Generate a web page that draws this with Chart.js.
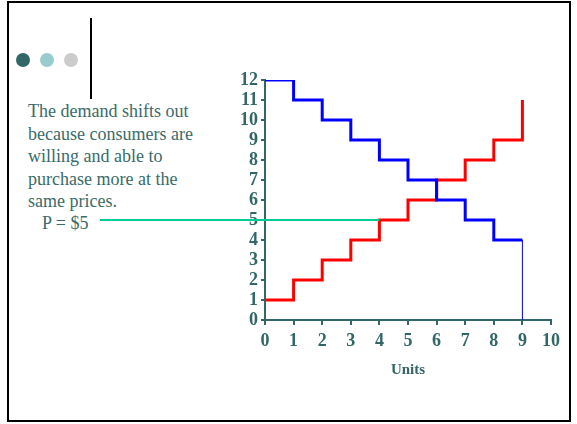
<!DOCTYPE html>
<html>
<head>
<meta charset="utf-8">
<script src="https://cdn.jsdelivr.net/npm/chart.js@4"></script>
<style>
  html, body { margin: 0; padding: 0; background: #fff; }
  body { width: 577px; height: 424px; position: relative; overflow: hidden; }
  #frame { position: absolute; left: 7px; top: 1px; width: 560px; height: 417px; border: 2px solid #000; }
  .dot { position: absolute; width: 14px; height: 14px; border-radius: 50%; top: 53px; }
  #vline { position: absolute; left: 90px; top: 18px; width: 2px; height: 81px; background: #000; }
  #para { position: absolute; left: 28px; top: 100px; font-family: "Liberation Serif", "Times New Roman", serif;
          font-size: 18px; line-height: 22.6px; color: #3a6b6b; white-space: nowrap; }
  #plabel { position: absolute; left: 42px; top: 212px; font-family: "Liberation Serif", "Times New Roman", serif;
          font-size: 18px; line-height: 22px; color: #3a6b6b; white-space: nowrap; }
  #c { position: absolute; left: 0; top: 0; }
</style>
</head>
<body>
<div id="frame"></div>
<div class="dot" style="left:16px;background:#336666"></div>
<div class="dot" style="left:40px;background:#99cccc"></div>
<div class="dot" style="left:64px;background:#cccccc"></div>
<div id="vline"></div>
<div id="para">The demand shifts out<br>because consumers are<br>willing and able to<br>purchase more at the<br>same prices.</div>
<div id="plabel">P = $5</div>
<canvas id="c" width="577" height="424"></canvas>
<script>
// ---- data ----
const units = [0, 1, 2, 3, 4, 5, 6, 7, 8, 9];
const demandPrice = [12, 11, 10, 9, 8, 7, 6, 5, 4];   // price for unit interval i..i+1
const supplyPrice = [1, 2, 3, 4, 5, 6, 7, 8, 9];      // price for unit interval i..i+1
const supplyTop = 11;
const demandBottom = 0;
const marketPrice = 5;
const xTicks = [0, 1, 2, 3, 4, 5, 6, 7, 8, 9, 10];
const yTicks = [0, 1, 2, 3, 4, 5, 6, 7, 8, 9, 10, 11, 12];

// build step points
const demandPts = demandPrice.map((p, i) => ({x: units[i], y: p}));
demandPts.push({x: units[demandPrice.length], y: demandPrice[demandPrice.length - 1]});
demandPts.push({x: units[demandPrice.length], y: demandBottom});
const supplyPts = supplyPrice.map((p, i) => ({x: units[i], y: p}));
supplyPts.push({x: units[supplyPrice.length], y: supplyPrice[supplyPrice.length - 1]});
supplyPts.push({x: units[supplyPrice.length], y: supplyTop});

const axisColor = '#336666';
const tickFont = {family: '"Liberation Serif", "Times New Roman", serif', size: 18, weight: 'bold'};

const priceLine = {
  id: 'priceLine',
  afterDatasetsDraw(chart) {
    const {ctx, scales: {x, y}} = chart;
    const lbl = document.getElementById('plabel');
    const r = lbl.getBoundingClientRect();
    const cr = chart.canvas.getBoundingClientRect();
    const idx = supplyPrice.indexOf(marketPrice);
    const x0 = r.left - cr.left + 58;
    const x1 = x.getPixelForValue(units[idx]);
    const yy = y.getPixelForValue(marketPrice);
    ctx.save();
    ctx.strokeStyle = '#00cc99';
    ctx.lineWidth = 2;
    ctx.beginPath();
    ctx.moveTo(x0, yy);
    ctx.lineTo(x1, yy);
    ctx.stroke();
    ctx.restore();
  }
};

new Chart(document.getElementById('c'), {
  type: 'scatter',
  data: {
    datasets: [
      {
        label: 'Demand',
        data: demandPts,
        showLine: true,
        stepped: 'before',
        borderColor: '#0000ff',
        borderWidth: 3,
        pointRadius: 0,
        fill: false,
        segment: {
          borderWidth: c => (c.p1DataIndex === demandPts.length - 1 ? 1 : 3)
        }
      },
      {
        label: 'Supply',
        data: supplyPts,
        showLine: true,
        stepped: 'before',
        borderColor: '#ff0000',
        borderWidth: 3,
        pointRadius: 0,
        fill: false
      }
    ]
  },
  options: {
    responsive: false,
    animation: false,
    events: [],
    layout: {padding: {left: 205, right: 26, top: 80, bottom: 44}},
    plugins: {legend: {display: false}, tooltip: {enabled: false}},
    scales: {
      x: {
        type: 'linear', min: 0, max: 10,
        afterBuildTicks: s => { s.ticks = xTicks.map(v => ({value: v})); },
        afterFit: s => { s.height = 60; },
        border: {display: true, color: axisColor, width: 2},
        grid: {drawOnChartArea: false, drawTicks: true, tickLength: 5, color: axisColor, lineWidth: 2},
        ticks: {color: axisColor, font: tickFont, padding: 6, maxRotation: 0, autoSkip: false},
        title: {display: true, text: 'Units', color: axisColor,
                font: {family: '"Liberation Serif", "Times New Roman", serif', size: 15, weight: 'bold'},
                padding: {top: 4, bottom: 1}}
      },
      y: {
        type: 'linear', min: 0, max: 12,
        afterBuildTicks: s => { s.ticks = yTicks.map(v => ({value: v})); },
        afterFit: s => { s.width = 60; },
        border: {display: true, color: axisColor, width: 2},
        grid: {drawOnChartArea: false, drawTicks: true, tickLength: 4, color: axisColor, lineWidth: 2},
        ticks: {color: axisColor, font: tickFont, padding: 3, autoSkip: false}
      }
    }
  },
  plugins: [priceLine]
});
</script>
</body>
</html>
